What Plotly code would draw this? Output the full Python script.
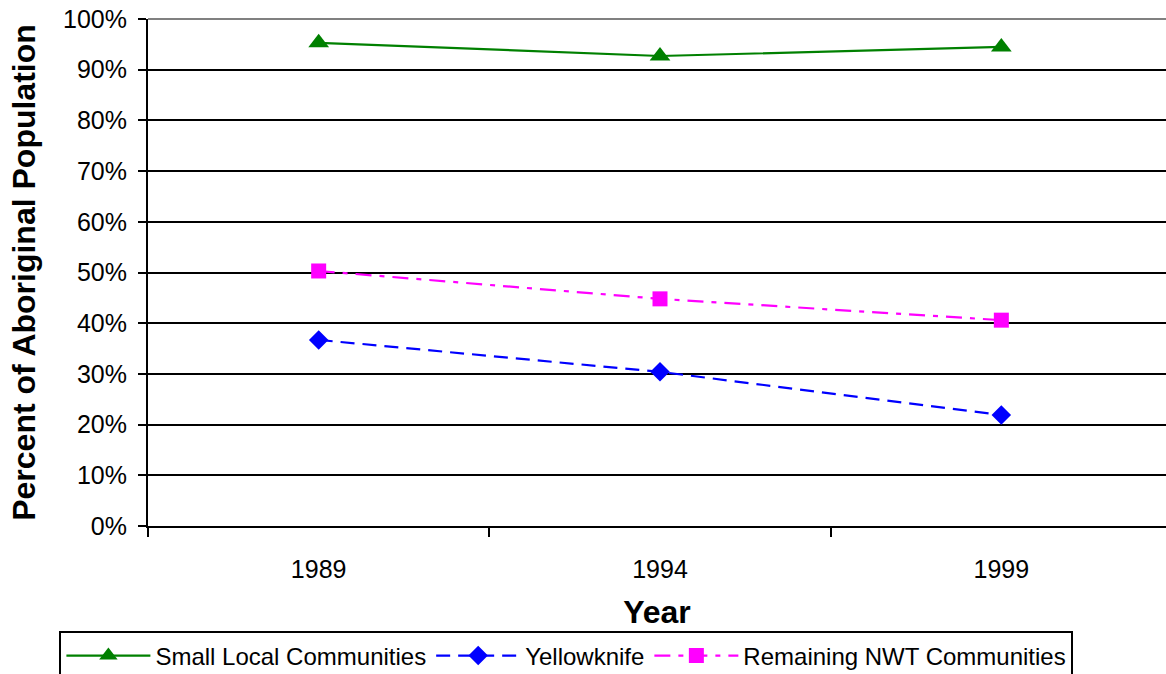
import plotly.graph_objects as go

years = ["1989", "1994", "1999"]
small_local = [0.953, 0.927, 0.945]
yellowknife = [0.367, 0.304, 0.219]
remaining_nwt = [0.503, 0.448, 0.406]
y_ticks = [i / 10 for i in range(11)]
y_tick_labels = [f"{i*10}%" for i in range(11)]

FONT = "Liberation Sans, Arial, sans-serif"

fig = go.Figure()
fig.add_trace(go.Scatter(
    x=years, y=small_local, name="Small Local Communities", mode="lines+markers",
    line=dict(color="#008000", width=2.2),
    marker=dict(symbol="triangle-up", size=18, color="#008000")))
fig.add_trace(go.Scatter(
    x=years, y=yellowknife, name="Yellowknife", mode="lines+markers",
    line=dict(color="#0000FF", width=2.2, dash="14px,8px"),
    marker=dict(symbol="diamond", size=15, color="#0000FF")))
fig.add_trace(go.Scatter(
    x=years, y=remaining_nwt, name="Remaining NWT Communities", mode="lines+markers",
    line=dict(color="#FF00FF", width=2.2, dash="16px,8px,5px,8px"),
    marker=dict(symbol="square", size=15, color="#FF00FF")))

fig.update_layout(
    width=1166, height=674,
    margin=dict(l=148, r=0, t=19, b=148, autoexpand=False),
    paper_bgcolor="white", plot_bgcolor="white",
    font=dict(family=FONT, color="black", size=25),
    xaxis=dict(
        type="category", range=[-0.5, 2.5 - 6 / 341], tickson="boundaries",
        showgrid=False, showline=True, linecolor="black", linewidth=2,
        ticks="outside", ticklen=9, tickwidth=2, tickcolor="black",
        ticklabelstandoff=20,
        tickfont=dict(size=25),
        title=dict(text="<b>Year</b>", font=dict(size=32), standoff=19),
    ),
    yaxis=dict(
        range=[0, 1], tickvals=y_ticks, ticktext=y_tick_labels,
        showgrid=True, gridcolor="black", gridwidth=2,
        showline=True, linecolor="black", linewidth=2,
        ticks="outside", ticklen=8, tickwidth=2, tickcolor="black",
        ticklabelstandoff=6, ticklabeloverflow="allow",
        tickfont=dict(size=25), zeroline=False,
        title=dict(text="<b>Percent of Aboriginal Population</b>", font=dict(size=32), standoff=18),
    ),
    legend=dict(
        orientation="h", x=0.411, xanchor="center", y=-0.208, yanchor="top",
        bordercolor="black", borderwidth=2, bgcolor="white",
        font=dict(size=24), itemwidth=84, tracegroupgap=0,
    ),
    showlegend=True,
)
fig.add_shape(type="line", xref="paper", yref="paper", x0=0, x1=1, y0=1, y1=1,
              line=dict(color="#808080", width=2), layer="above")

fig.write_html("out.html", config={"displayModeBar": False},
               post_script="document.body.style.margin='0';")
